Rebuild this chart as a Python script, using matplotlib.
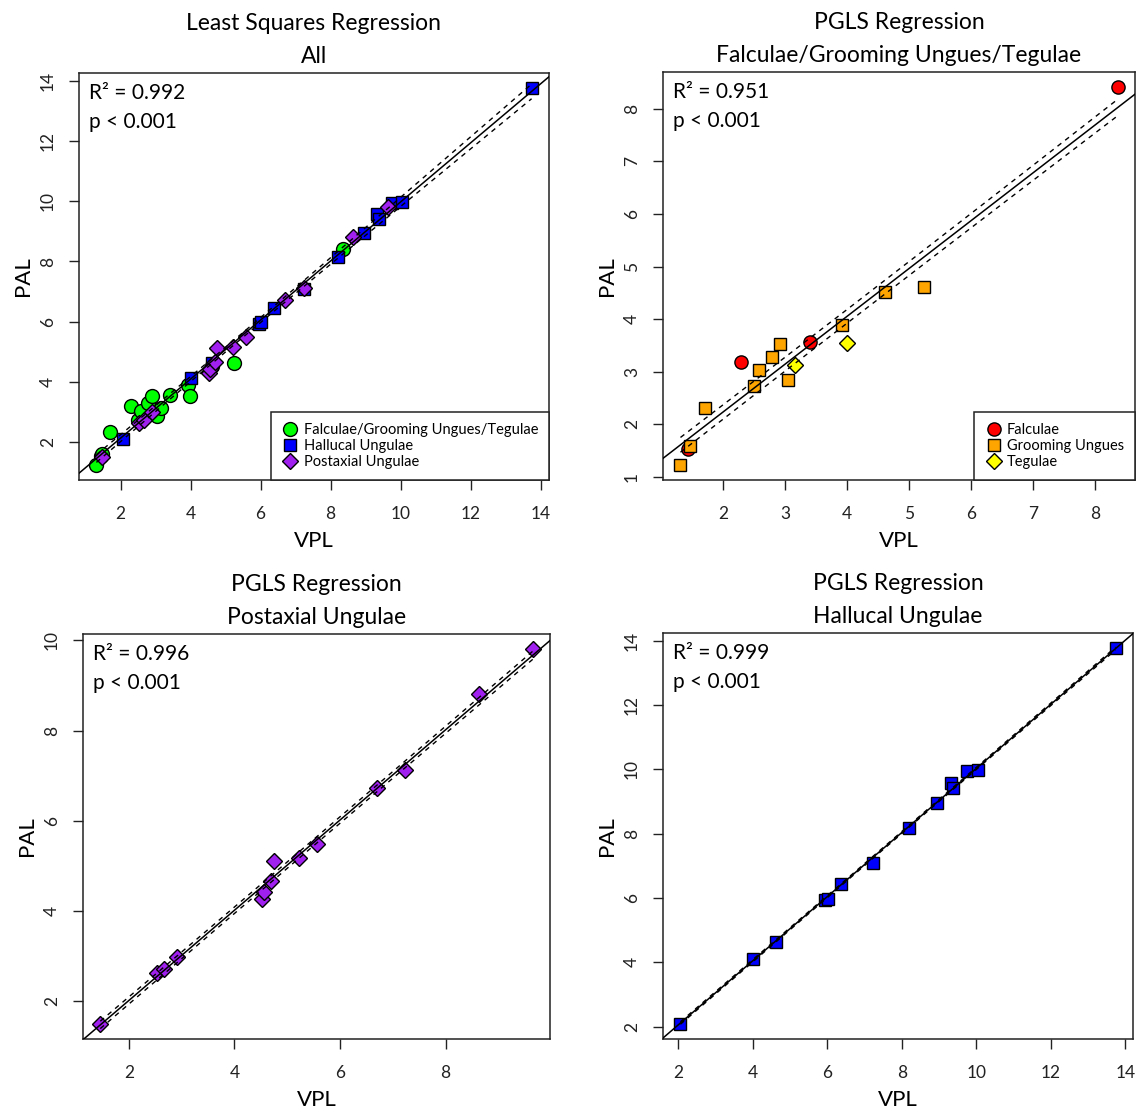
import numpy as np
import matplotlib.pyplot as plt

plt.rcParams['font.family'] = ['Lato', 'DejaVu Sans']

# --- dati (VPL, PAL) ---
falc_vpl = [1.43, 2.29, 3.40, 8.36]
falc_pal = [1.53, 3.18, 3.57, 8.41]
groom_vpl = [1.31, 1.47, 1.71, 2.50, 2.58, 2.79, 2.91, 3.05, 3.92, 4.61, 5.24]
groom_pal = [1.23, 1.59, 2.32, 2.72, 3.04, 3.29, 3.53, 2.85, 3.89, 4.51, 4.62]
teg_vpl = [3.15, 3.99]
teg_pal = [3.13, 3.54]
hal_vpl = [2.06, 4.01, 4.62, 5.95, 6.01, 6.38, 7.23, 8.20, 8.96, 9.33, 9.38, 9.74, 10.05, 13.74]
hal_pal = [2.08, 4.11, 4.63, 5.93, 5.98, 6.44, 7.10, 8.16, 8.96, 9.57, 9.42, 9.95, 9.99, 13.77]
post_vpl = [1.46, 2.53, 2.67, 2.91, 4.52, 4.56, 4.69, 4.75, 5.22, 5.57, 6.70, 7.23, 8.64, 9.65]
post_pal = [1.50, 2.64, 2.71, 2.99, 4.28, 4.43, 4.67, 5.11, 5.17, 5.48, 6.73, 7.12, 8.81, 9.81]

r2_text = ['0.992', '0.951', '0.996', '0.999']

# rette PGLS (intercetta, pendenza) e semi-ampiezza banda
pgls_fg = (0.42, 0.909, 0.13, 0.02, 4.0)
pgls_post = (0.02, 1.0, 0.07, 0.012, 5.0)
pgls_hal = (0.055, 0.997, 0.03, 0.005, 7.0)

W, H = 1139, 1115
fig = plt.figure(figsize=(W / 100, H / 100), dpi=100)

def make_ax(l, t, r, b):
    return fig.add_axes([l / W, 1 - b / H, (r - l) / W, (b - t) / H])

ax1 = make_ax(79, 73, 549, 480)
ax2 = make_ax(663, 72, 1135, 480)
ax3 = make_ax(83, 634, 550, 1039)
ax4 = make_ax(663, 633, 1133, 1039)

def r_lims(ax, xs, ys):
    xs = np.asarray(xs); ys = np.asarray(ys)
    dx = 0.04 * (xs.max() - xs.min()); dy = 0.04 * (ys.max() - ys.min())
    ax.set_xlim(xs.min() - dx, xs.max() + dx)
    ax.set_ylim(ys.min() - dy, ys.max() + dy)

def style(ax, title, xt, yt, r2):
    ax.set_title(title, fontsize=16.5, linespacing=1.72, pad=7)
    ax.set_xticks(xt); ax.set_yticks(yt)
    ax.tick_params(length=7.5, width=1, color='#222', labelsize=12.5, labelcolor='#222', pad=11)
    ax.tick_params(axis='y', labelrotation=90, pad=9)
    for lab in ax.get_yticklabels():
        lab.set_va('center')
    ax.set_xlabel('VPL', fontsize=16, labelpad=7)
    ax.set_ylabel('PAL', fontsize=16, labelpad=5)
    for s in ax.spines.values():
        s.set_linewidth(1.1); s.set_color('#222')
    ax.annotate('R² = ' + r2, xy=(0, 1), xycoords='axes fraction', xytext=(7, -19),
                textcoords='offset points', fontsize=15, va='baseline')
    ax.annotate('p < 0.001', xy=(0, 1), xycoords='axes fraction', xytext=(7, -39.5),
                textcoords='offset points', fontsize=15, va='baseline')

def fit_lines(ax, a, b, half, xdata):
    x0, x1 = ax.get_xlim()
    xx = np.array([x0, x1])
    ax.plot(xx, a + b * xx, color='black', lw=1.1, zorder=5)
    xd = np.linspace(min(xdata), max(xdata), 200)
    yd = a + b * xd
    h = half(xd)
    ax.plot(xd, yd + h, color='black', lw=1, dashes=(3.5, 3.5), zorder=5)
    ax.plot(xd, yd - h, color='black', lw=1, dashes=(3.5, 3.5), zorder=5)
    ax.set_xlim(x0, x1)

def pts(ax, x, y, mk, col, ms, lab=None):
    ax.plot(x, y, linestyle='none', marker=mk, ms=ms, mfc=col, mec='black', mew=1, label=lab, zorder=3)

def legend(ax):
    lg = ax.legend(loc='lower right', borderaxespad=0, fancybox=False, edgecolor='#222', framealpha=1,
                   fontsize=10.5, handletextpad=0.3, borderpad=0.75, labelspacing=0.15, handlelength=1.2)
    lg.get_frame().set_linewidth(1.1)

# --- pannello 1: minimi quadrati su tutti ---
fgt_vpl = falc_vpl + groom_vpl + teg_vpl
fgt_pal = falc_pal + groom_pal + teg_pal
all_x = np.array(fgt_vpl + hal_vpl + post_vpl)
all_y = np.array(fgt_pal + hal_pal + post_pal)
pts(ax1, fgt_vpl, fgt_pal, 'o', '#00ff00', 10, 'Falculae/Grooming Ungues/Tegulae')
pts(ax1, hal_vpl, hal_pal, 's', '#0000ff', 8.5, 'Hallucal Ungulae')
pts(ax1, post_vpl, post_pal, 'D', '#a020f0', 8.0, 'Postaxial Ungulae')
r_lims(ax1, all_x, all_y)
b1, a1 = np.polyfit(all_x, all_y, 1)
n = len(all_x)
res = all_y - (a1 + b1 * all_x)
s = np.sqrt(np.sum(res ** 2) / (n - 2))
xm = all_x.mean(); sxx = np.sum((all_x - xm) ** 2)
fit_lines(ax1, a1, b1, lambda x: 2.017 * s * np.sqrt(1 / n + (x - xm) ** 2 / sxx), all_x)
style(ax1, 'Least Squares Regression\nAll', range(2, 15, 2), range(2, 15, 2), r2_text[0])
legend(ax1)

# --- pannello 2: PGLS falculae/grooming/tegulae ---
pts(ax2, falc_vpl, falc_pal, 'o', '#ff0000', 9.5, 'Falculae')
pts(ax2, groom_vpl, groom_pal, 's', '#ffa500', 8.0, 'Grooming Ungues')
pts(ax2, teg_vpl, teg_pal, 'D', '#ffff00', 8.0, 'Tegulae')
r_lims(ax2, fgt_vpl, fgt_pal)
a, b, h0, h1, c = pgls_fg
fit_lines(ax2, a, b, lambda x: np.sqrt(h0 ** 2 + (h1 * (x - c)) ** 2), fgt_vpl)
style(ax2, 'PGLS Regression\nFalculae/Grooming Ungues/Tegulae', range(2, 9), range(1, 9), r2_text[1])
legend(ax2)

# --- pannello 3: PGLS postaxial ---
pts(ax3, post_vpl, post_pal, 'D', '#a020f0', 8.0)
r_lims(ax3, post_vpl, post_pal)
a, b, h0, h1, c = pgls_post
fit_lines(ax3, a, b, lambda x: np.sqrt(h0 ** 2 + (h1 * (x - c)) ** 2), post_vpl)
style(ax3, 'PGLS Regression\nPostaxial Ungulae', range(2, 9, 2), range(2, 11, 2), r2_text[2])

# --- pannello 4: PGLS hallucal ---
pts(ax4, hal_vpl, hal_pal, 's', '#0000ff', 8.5)
r_lims(ax4, hal_vpl, hal_pal)
a, b, h0, h1, c = pgls_hal
fit_lines(ax4, a, b, lambda x: np.sqrt(h0 ** 2 + (h1 * (x - c)) ** 2), hal_vpl)
style(ax4, 'PGLS Regression\nHallucal Ungulae', range(2, 15, 2), range(2, 15, 2), r2_text[3])

fig.savefig('out.png', dpi=100)
